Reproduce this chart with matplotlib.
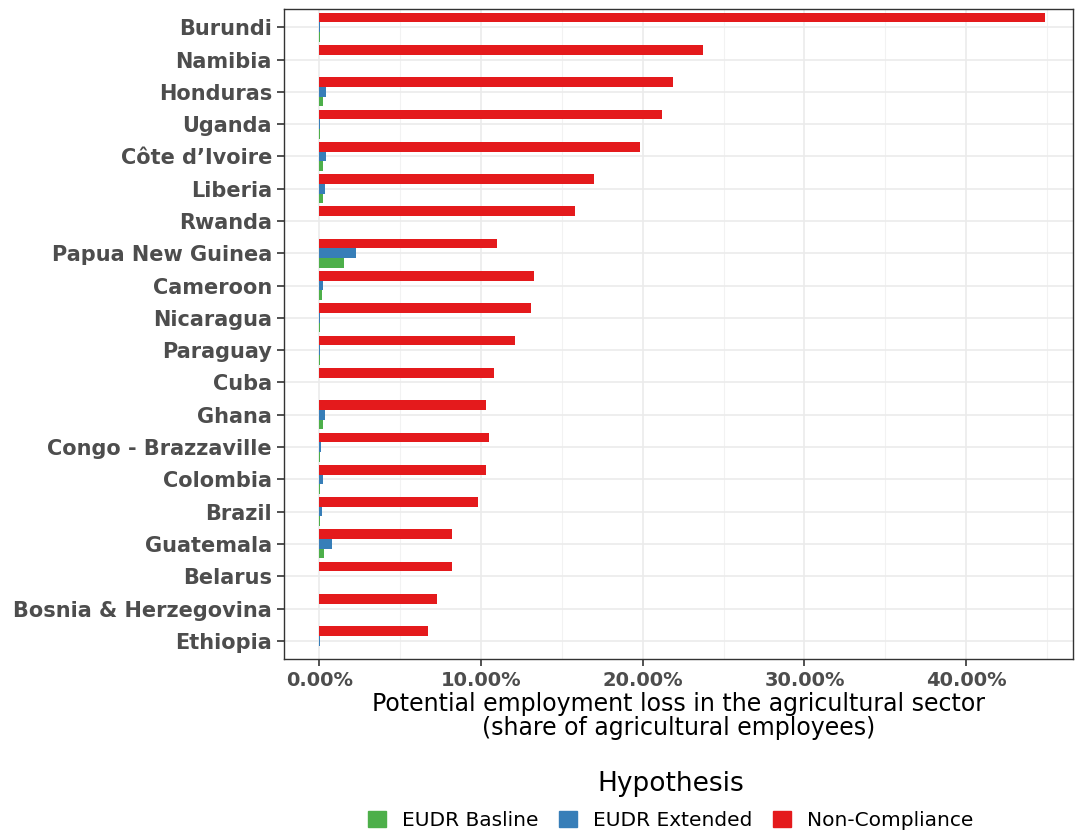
import numpy as np
import matplotlib
matplotlib.use("Agg")
import matplotlib.pyplot as plt
from matplotlib.patches import Patch
from matplotlib.ticker import FuncFormatter, MultipleLocator

# countries, top to bottom
countries = ["Burundi", "Namibia", "Honduras", "Uganda", "Côte d\u2019Ivoire",
             "Liberia", "Rwanda", "Papua New Guinea", "Cameroon", "Nicaragua",
             "Paraguay", "Cuba", "Ghana", "Congo - Brazzaville", "Colombia",
             "Brazil", "Guatemala", "Belarus", "Bosnia & Herzegovina", "Ethiopia"]

# values in percent
non_compliance = [44.9, 23.7, 21.9, 21.2, 19.8, 17.0, 15.8, 11.0, 13.3, 13.1,
                  12.1, 10.8, 10.3, 10.5, 10.3, 9.8, 8.2, 8.2, 7.3, 6.7]
eudr_extended = [0.04, 0.0, 0.41, 0.04, 0.41, 0.35, 0.0, 2.24, 0.23, 0.04,
                 0.04, 0.0, 0.35, 0.08, 0.22, 0.14, 0.80, 0.0, 0.0, 0.04]
eudr_baseline = [0.02, 0.0, 0.25, 0.02, 0.22, 0.25, 0.0, 1.54, 0.14, 0.02,
                 0.02, 0.0, 0.20, 0.02, 0.03, 0.02, 0.29, 0.0, 0.0, 0.0]

c_green = "#4DAF4A"
c_blue = "#377EB8"
c_red = "#E41A1C"

fig = plt.figure(figsize=(10.75, 8.33), dpi=100)
ax = fig.add_axes([0.264, 0.209, 0.734, 0.780])

n = len(countries)
y = np.arange(n)[::-1]  # first country at top
h = 0.3
ax.barh(y + h, non_compliance, height=h, color=c_red, zorder=3)
ax.barh(y, eudr_extended, height=h, color=c_blue, zorder=3)
ax.barh(y - h, eudr_baseline, height=h, color=c_green, zorder=3)

ax.set_xlim(-2.2, 46.6)
ax.set_ylim(-0.56, n - 1 + 0.56)
ax.set_yticks(y)
ax.set_yticklabels(countries, fontsize=15, fontweight="bold", color="#4D4D4D")
ax.xaxis.set_major_locator(MultipleLocator(10))
ax.xaxis.set_minor_locator(MultipleLocator(5))
ax.xaxis.set_major_formatter(FuncFormatter(lambda v, p: f"{v:.2f}%"))
for lab in ax.get_xticklabels():
    lab.set_fontsize(14)
    lab.set_fontweight("bold")
    lab.set_color("#4D4D4D")

ax.grid(which="major", color="#EBEBEB", linewidth=1.2, zorder=0)
ax.grid(which="minor", axis="x", color="#F2F2F2", linewidth=0.8, zorder=0)
ax.tick_params(which="major", length=5, width=1.2, color="#333333")
ax.tick_params(which="minor", length=0)
for s in ax.spines.values():
    s.set_color("#333333")
    s.set_linewidth(1.0)

ax.set_xlabel("Potential employment loss in the agricultural sector\n(share of agricultural employees)",
              fontsize=17, labelpad=2, linespacing=1.0)

handles = [Patch(color=c_green, label="EUDR Basline"),
           Patch(color=c_blue, label="EUDR Extended"),
           Patch(color=c_red, label="Non-Compliance")]
leg = fig.legend(handles=handles, loc="lower center", bbox_to_anchor=(0.624, -0.018),
                 ncol=3, frameon=False, title="Hypothesis", fontsize=14.5,
                 title_fontsize=19, handlelength=0.9, handleheight=0.9,
                 columnspacing=1.0, handletextpad=0.8)
leg._legend_box.sep = 10

fig.savefig("out.png", dpi=100)
